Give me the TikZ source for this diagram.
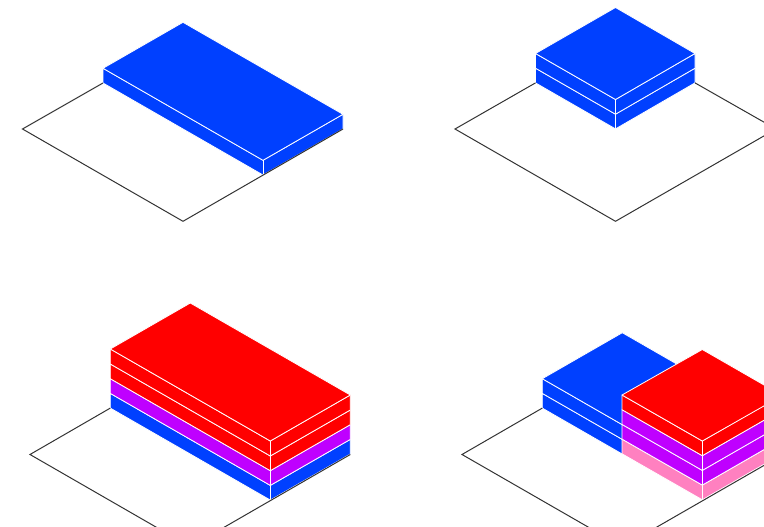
\documentclass[tikz,border=0pt]{standalone}
\definecolor{slabblue}{HTML}{0040FF}
\definecolor{slabred}{HTML}{FF0000}
\definecolor{slabpurple}{HTML}{BF00FF}
\definecolor{slabpink}{HTML}{FF80C0}
\tikzset{
  slab/.style={draw=white, line width=.8pt, line join=round},
  ground/.style={draw=black!80, line width=1pt, line join=miter}
}
\begin{document}
\begin{tikzpicture}[x=1pt, y=-1pt]
  \useasboundingbox (0,0) rectangle (764,527);
  \clip (0,0) rectangle (764,527);
  % top left
  \coordinate (A) at (103,68.3);
  \draw[slab, fill=slabblue] (A) -- ++(160,92) -- ++(80,-46) -- ++(0,14.7) -- ++(-80,46) -- ++(-160,-92) -- cycle;
  \draw[slab, fill=slabblue] (A) -- ++(80,-46) -- ++(160,92) -- ++(-80,46) -- cycle;
  \draw[slab] (263,160.3) -- ++(0,14.7);
  \draw[ground] (103,83) -- (22.5,129) -- (183,221.3) -- (343,129);
  % top right
  \coordinate (B2) at (535.5,68.2); \coordinate (B1) at (535.5,53.5);
  \draw[slab, fill=slabblue] (B2) -- ++(80,46) -- ++(79.5,-46) -- ++(0,14.7) -- ++(-79.5,46) -- ++(-80,-46) -- cycle;
  \draw[slab, fill=slabblue] (B1) -- ++(80,46) -- ++(79.5,-46) -- ++(0,14.7) -- ++(-79.5,46) -- ++(-80,-46) -- cycle;
  \draw[slab, fill=slabblue] (B1) -- ++(80,-46) -- ++(79.5,46) -- ++(-79.5,46) -- cycle;
  \draw[slab] (615.5,99.5) -- ++(0,29.4);
  \draw[ground] (535.5,82.9) -- (455,129) -- (615.5,221.3) -- (776,129) -- (695,82.9);
  % bottom left
  \coordinate (C4) at (110.3,393.4); \coordinate (C3) at (110.3,378.7);
  \coordinate (C2) at (110.3,364); \coordinate (C1) at (110.3,349);
  \draw[slab, fill=slabblue] (C4) -- ++(160,92) -- ++(80,-46) -- ++(0,14.7) -- ++(-80,46) -- ++(-160,-92) -- cycle;
  \draw[slab, fill=slabpurple] (C3) -- ++(160,92) -- ++(80,-46) -- ++(0,14.7) -- ++(-80,46) -- ++(-160,-92) -- cycle;
  \draw[slab, fill=slabred] (C2) -- ++(160,92) -- ++(80,-46) -- ++(0,14.7) -- ++(-80,46) -- ++(-160,-92) -- cycle;
  \draw[slab, fill=slabred] (C1) -- ++(160,92) -- ++(80,-46) -- ++(0,15) -- ++(-80,46) -- ++(-160,-92) -- cycle;
  \draw[slab, fill=slabred] (C1) -- ++(80,-46) -- ++(160,92) -- ++(-80,46) -- cycle;
  \draw[slab] (270.3,441) -- ++(0,59);
  \draw[ground] (110.3,408.1) -- (30,454.5) -- (190.3,546.8) -- (350.3,454.5);
  % bottom right
  \coordinate (D2) at (542.3,393.4); \coordinate (D1) at (542.3,378.7);
  \draw[slab, fill=slabblue] (D2) -- ++(80,46) -- ++(80,-46) -- ++(0,14.7) -- ++(-80,46) -- ++(-80,-46) -- cycle;
  \draw[slab, fill=slabblue] (D1) -- ++(80,46) -- ++(80,-46) -- ++(0,14.7) -- ++(-80,46) -- ++(-80,-46) -- cycle;
  \draw[slab, fill=slabblue] (D1) -- ++(80,-46) -- ++(80,46) -- ++(-80,46) -- cycle;
  \coordinate (E4) at (622,439.1); \coordinate (E3) at (622,424.4);
  \coordinate (E2) at (622,409.7); \coordinate (E1) at (622,395);
  \draw[slab, fill=slabpink] (E4) -- ++(80.3,46) -- ++(80,-46) -- ++(0,14.7) -- ++(-80,46) -- ++(-80.3,-46) -- cycle;
  \draw[slab, fill=slabpurple] (E3) -- ++(80.3,46) -- ++(80,-46) -- ++(0,14.7) -- ++(-80,46) -- ++(-80.3,-46) -- cycle;
  \draw[slab, fill=slabpurple] (E2) -- ++(80.3,46) -- ++(80,-46) -- ++(0,14.7) -- ++(-80,46) -- ++(-80.3,-46) -- cycle;
  \draw[slab, fill=slabred] (E1) -- ++(80.3,46) -- ++(80,-46) -- ++(0,14.7) -- ++(-80,46) -- ++(-80.3,-46) -- cycle;
  \draw[slab, fill=slabred] (E1) -- ++(80.3,-45.5) -- ++(80,46) -- ++(-80,45.5) -- cycle;
  \draw[slab] (702.3,441) -- ++(0,58.8);
  \draw[ground] (542.3,408.1) -- (462,454.5) -- (622.5,546.8) -- (783,454.5);
\end{tikzpicture}
\end{document}
